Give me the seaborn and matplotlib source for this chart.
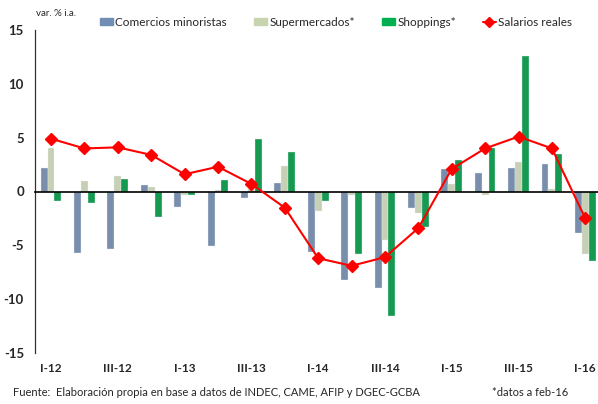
import pandas as pd
import seaborn as sns
import matplotlib.pyplot as plt
from matplotlib.lines import Line2D
from matplotlib.patches import Patch

##... datos trimestrales (var. % i.a.)
trimestres = ['I-12', 'II-12', 'III-12', 'IV-12', 'I-13', 'II-13', 'III-13', 'IV-13',
              'I-14', 'II-14', 'III-14', 'IV-14', 'I-15', 'II-15', 'III-15', 'IV-15', 'I-16']
comercios = [2.2, -5.7, -5.3, 0.6, -1.4, -5.1, -0.6, 0.8, -5.6, -8.2, -9.0, -1.5, 2.1, 1.7, 2.2, 2.6, -3.9]
supermercados = [4.0, 1.0, 1.4, 0.4, -0.3, 0.1, 0.2, 2.4, -1.8, -0.3, -4.5, -2.0, 0.7, -0.3, 2.7, 0.2, -5.8]
shoppings = [-0.9, -1.1, 1.2, -2.4, -0.3, 1.1, 4.9, 3.7, -0.9, -5.8, -11.6, -3.3, 2.9, 4.0, 12.6, 3.5, -6.5]
salarios = [4.9, 4.0, 4.1, 3.4, 1.6, 2.3, 0.7, -1.5, -6.2, -6.9, -6.1, -3.4, 2.1, 4.0, 5.1, 4.0, -2.5]
etiquetas = ['I-12', 'III-12', 'I-13', 'III-13', 'I-14', 'III-14', 'I-15', 'III-15', 'I-16']

series = ['Comercios minoristas', 'Supermercados*', 'Shoppings*']
colores = ['#6F8DB5', '#C8D4B0', '#00B050']

df = pd.DataFrame({'trimestre': trimestres,
                   'Comercios minoristas': comercios,
                   'Supermercados*': supermercados,
                   'Shoppings*': shoppings})
df_long = df.melt(id_vars='trimestre', var_name='serie', value_name='valor')

sns.set_style('white')
plt.rcParams['font.family'] = ['Lato', 'DejaVu Sans']

fig = plt.figure(figsize=(5.98, 4.04), dpi=100)
ax = fig.add_axes([35 / 598, 1 - 353 / 404, 1 - 35 / 598, (353 - 30) / 404])

sns.barplot(data=df_long, x='trimestre', y='valor', hue='serie', order=trimestres,
            hue_order=series, palette=colores, width=0.62, ax=ax,
            edgecolor='#EEF2F6', linewidth=0.25, legend=False)

##... linea de salarios
ax.plot(range(len(trimestres)), salarios, color='#FF0000', lw=1.5,
        marker='D', markersize=6.5, zorder=5)

ax.set_ylim(-15, 15)
ax.set_xlim(-0.48, 16.38)
ax.set_yticks([-15, -10, -5, 0, 5, 10, 15])
ax.set_yticklabels(['-15', '-10', '-5', '0', '5', '10', '15'], fontweight='bold', fontsize=9.5)
ax.tick_params(axis='y', direction='in', length=4, width=0.8, color='#333333', pad=8)

ax.spines['top'].set_visible(False)
ax.spines['right'].set_visible(False)
ax.spines['left'].set_color('#333333')
ax.spines['left'].set_linewidth(0.9)
ax.spines['bottom'].set_position(('data', 0))
ax.spines['bottom'].set_color('black')
ax.spines['bottom'].set_linewidth(1.2)

ax.set_xticks([i + 1.5 for i in range(0, 16, 2)])
ax.set_xticklabels([''] * 8)
ax.tick_params(axis='x', direction='in', length=3, width=0.8, color='#555555')
ax.set_xlabel('')
ax.set_ylabel('')

##... etiquetas de trimestres abajo
for i, lbl in enumerate(etiquetas):
    ax.text(i * 2, -16.45, lbl, ha='center', va='center', fontsize=8.5,
            fontweight='bold', clip_on=False)

fig.text(36 / 598, 1 - 13 / 404, 'var. % i.a.', fontsize=7, va='center', ha='left')

handles = [Patch(color=colores[0]), Patch(color=colores[1]), Patch(color=colores[2]),
           Line2D([0], [0], color='#FF0000', lw=1.5, marker='D', markersize=5)]
fig.legend(handles, series + ['Salarios reales'], loc='center', ncol=4,
           bbox_to_anchor=(0.5 + 37 / 598, 1 - 22 / 404), frameon=False, fontsize=8.5,
           handlelength=1.1, handletextpad=0.2, columnspacing=2.3, handleheight=0.5)

fig.text(13 / 598, 1 - 393 / 404,
         'Fuente:  Elaboración propia en base a datos de INDEC, CAME, AFIP y DGEC-GCBA',
         fontsize=8, va='center', ha='left')
fig.text(568 / 598, 1 - 393 / 404, '*datos a feb-16', fontsize=8, va='center', ha='right')

fig.savefig('out.png', dpi=100)
